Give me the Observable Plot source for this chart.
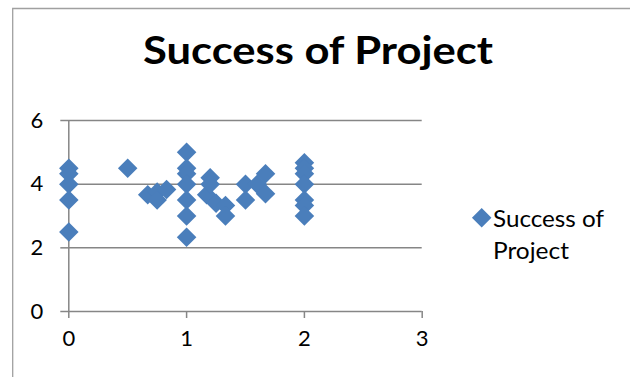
<!DOCTYPE html>
<html><head><meta charset="utf-8">
<script src="https://cdn.jsdelivr.net/npm/d3@7"></script>
<script src="https://cdn.jsdelivr.net/npm/@observablehq/plot@0.6"></script>
<style>body{margin:0;background:#fff;} svg{display:block}</style>
</head><body><div id="chart"></div>
<script>
const title = "Success of Project";
const seriesLines = ["Success of", "Project"];
const xValues = [0, 0, 0, 0, 0,
  0.5, 0.67, 0.75, 0.75, 0.83,
  1, 1, 1, 1, 1, 1, 1,
  1.17, 1.2, 1.2, 1.25, 1.33, 1.33,
  1.5, 1.5, 1.6, 1.67, 1.67,
  2, 2, 2, 2, 2, 2, 2];
const yValues = [4.5, 4.33, 4, 3.5, 2.5,
  4.5, 3.67, 3.75, 3.5, 3.83,
  5, 4.5, 4.33, 4, 3.5, 3, 2.33,
  3.67, 4.2, 4, 3.4, 3.33, 3,
  4, 3.5, 4, 4.33, 3.7,
  4.67, 4.5, 4.33, 4, 3.5, 3.33, 3];
const xTicks = [0, 1, 2, 3];
const yTicks = [0, 2, 4, 6];

const data = xValues.map((x, i) => ({x, y: yValues[i]}));
const gray = "#868686";
const blue = "#4a7ebb";
const font = "Lato, 'Open Sans', sans-serif";

const chart = Plot.plot({
  width: 630, height: 377,
  marginLeft: 68.3, marginRight: 208.3, marginTop: 120, marginBottom: 66,
  style: {fontFamily: font, fontSize: "22px", background: "white", color: "black", overflow: "visible"},
  x: {domain: [0, 3], ticks: xTicks},
  y: {domain: [0, 6], ticks: yTicks},
  marks: [
    Plot.gridY(yTicks, {stroke: gray, strokeOpacity: 1, strokeWidth: 1.5}),
    Plot.ruleX([0], {stroke: gray, strokeWidth: 1.5}),
    Plot.axisY(yTicks, {tickSize: 8, tickPadding: 17.6, stroke: gray, strokeWidth: 1.5, fill: "black", label: null, tickFormat: d => String(d)}),
    Plot.axisX(xTicks, {tickSize: 7, tickPadding: 12, stroke: gray, strokeWidth: 1.5, fill: "black", label: null, tickFormat: d => String(d)}),
    Plot.dot(data, {x: "x", y: "y", symbol: "diamond2", r: 8.8, fill: blue, stroke: "none"})
  ]
});

const svg = d3.select(chart);
svg.selectAll("text").filter(function() { return /^\d$/.test(this.textContent); })
  .style("font-size", "22px").style("font-family", font);
// chart border
svg.append("path").attr("d", "M12.7,377V8.5H630").attr("fill", "none").attr("stroke", "#a0a0a0").attr("stroke-width", 1.3);
// title
svg.append("text").text(title)
  .attr("x", 318).attr("y", 64.3).attr("text-anchor", "middle")
  .attr("font-family", font).attr("font-weight", "bold").attr("font-size", 39)
  .attr("textLength", 350).attr("lengthAdjust", "spacingAndGlyphs").attr("fill", "black");
// legend
svg.append("path").attr("d", d3.symbol(d3.symbolDiamond2, Math.PI * 8.8 * 8.8)())
  .attr("transform", "translate(481.7,217.7)").attr("fill", blue);
const lens = [111, 76];
seriesLines.forEach((t, i) => {
  svg.append("text").text(t)
    .attr("x", 493).attr("y", 226.7 + i * 31.8).attr("text-anchor", "start")
    .attr("font-family", font).attr("font-size", 23)
    .attr("textLength", lens[i]).attr("lengthAdjust", "spacingAndGlyphs").attr("fill", "black");
});
document.getElementById("chart").appendChild(chart);
</script>
</body></html>
